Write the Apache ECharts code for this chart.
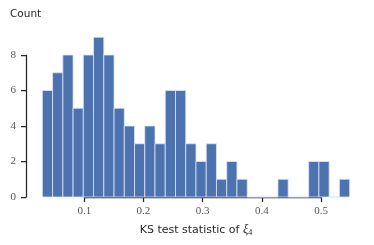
<!DOCTYPE html>
<html><head><meta charset="utf-8">
<script src="https://cdn.jsdelivr.net/npm/echarts@6/dist/echarts.min.js"></script>
<style>html,body{margin:0;padding:0;background:#fff}#c{width:374px;height:245px}</style>
</head><body><div id="c"></div>
<script>
const binStart = 0.0291;
const binWidth = 0.01731;
const counts = [6,7,8,5,8,9,8,5,4,3,4,3,6,6,3,2,3,1,2,1,0,0,0,1,0,0,2,2,0,1];
const xTicks = [0.1, 0.2, 0.3, 0.4, 0.5];
const yTicks = [0, 2, 4, 6, 8];

const data = counts.map((c, i) => [binStart + i * binWidth, binStart + (i + 1) * binWidth, c]);
const axisColor = '#262626';
const chart = echarts.init(document.getElementById('c'), null, {renderer: 'canvas'});
chart.setOption({
  animation: false,
  backgroundColor: '#fff',
  title: [
    {text: 'Count', left: 10, top: 9, padding: 0, textStyle: {fontFamily: 'DejaVu Sans', fontSize: 10.5, fontWeight: 'normal', color: '#262626'}},
    {text: 'KS test statistic of {i|ξ}{s|4}', left: 196, top: 223, padding: 0, textAlign: 'center',
     textStyle: {fontFamily: 'DejaVu Sans', fontSize: 11, fontWeight: 'normal', color: '#262626',
       rich: {i: {fontFamily: 'Liberation Serif', fontStyle: 'italic', fontSize: 12.5, color: '#262626', verticalAlign: 'middle'},
              s: {fontFamily: 'Liberation Serif', fontSize: 8, color: '#262626', padding: [6, 0, 0, 0]}}}}
  ],
  grid: {left: 84.3, right: 53, top: 55, bottom: 48},
  xAxis: {
    type: 'value', min: xTicks[0], max: xTicks[xTicks.length - 1], interval: 0.1,
    axisLine: {show: true, lineStyle: {color: axisColor, width: 1.25}},
    axisTick: {show: true, length: 5, lineStyle: {color: axisColor, width: 1.25}},
    axisLabel: {margin: 9, fontFamily: 'Liberation Serif', fontSize: 11, color: '#555', formatter: v => (Math.round(v * 10) / 10).toString()},
    splitLine: {show: false}
  },
  yAxis: {
    type: 'value', min: yTicks[0], max: yTicks[yTicks.length - 1], interval: 2, offset: 58.3,
    axisLine: {show: true, lineStyle: {color: axisColor, width: 1.25}},
    axisTick: {show: true, length: 5, lineStyle: {color: axisColor, width: 1.25}},
    axisLabel: {margin: 10, fontFamily: 'Liberation Serif', fontSize: 11, color: '#555'},
    splitLine: {show: false}
  },
  series: [{
    type: 'custom', clip: false,
    data: data,
    encode: {x: [0, 1], y: 2},
    renderItem: function (params, api) {
      const p0 = api.coord([api.value(0), 0]);
      const p1 = api.coord([api.value(1), api.value(2)]);
      return {
        type: 'rect',
        shape: {x: p0[0], y: p1[1], width: p1[0] - p0[0], height: p0[1] - p1[1]},
        style: {fill: '#4c72b0', stroke: 'rgba(220,228,245,0.9)', lineWidth: 0.9}
      };
    }
  }]
});
</script></body></html>
